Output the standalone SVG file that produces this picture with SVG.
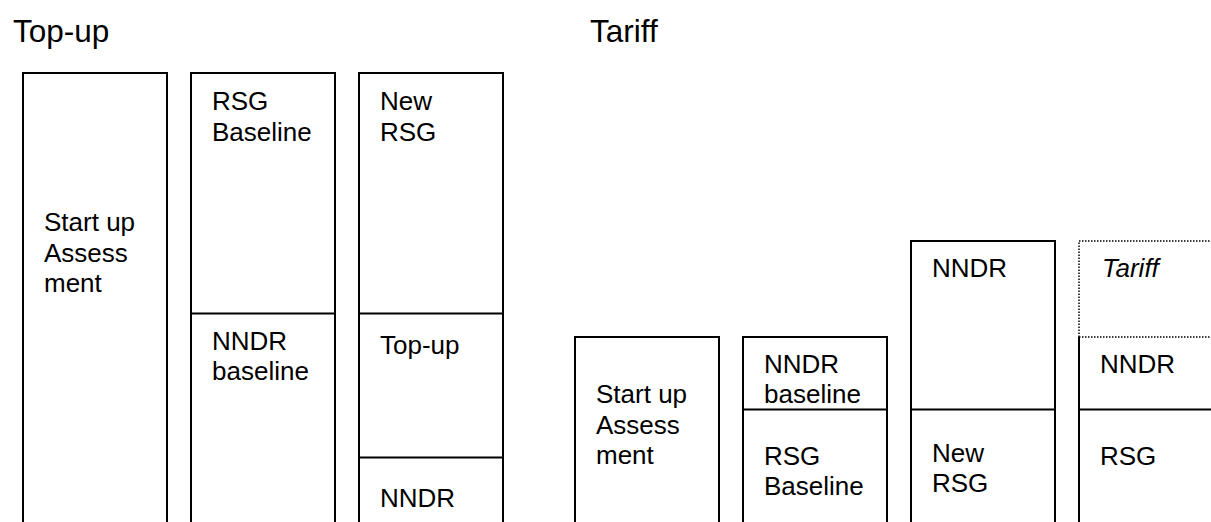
<svg xmlns="http://www.w3.org/2000/svg" width="1211" height="522" viewBox="0 0 1211 522">
<style>
.box{fill:none;stroke:#000;stroke-width:2}
.div{stroke:#000;stroke-width:2}
.dot{fill:none;stroke:#000;stroke-width:1.5;stroke-dasharray:1.5 1.5}
.t{font-family:"Liberation Sans",Arial,sans-serif;font-size:26px;fill:#000}
.h{font-family:"Liberation Sans",Arial,sans-serif;font-size:31.5px;fill:#000}
.i{font-style:italic}
</style>
<rect width="1211" height="522" fill="#fff"/>
<text class="h" x="13" y="42">Top-up</text>
<text class="h" x="590" y="42">Tariff</text>
<g id="topup-startup">
<rect class="box" x="23" y="73" width="144" height="480"/>
<text class="t" x="44" y="231"><tspan x="44">Start up</tspan><tspan x="44" dy="30.5">Assess</tspan><tspan x="44" dy="30.5">ment</tspan></text>
</g>
<g id="topup-baseline">
<rect class="box" x="191" y="73" width="144" height="480"/>
<line class="div" x1="191" y1="313.5" x2="335" y2="313.5"/>
<text class="t" x="212" y="110"><tspan x="212">RSG</tspan><tspan x="212" dy="30.5">Baseline</tspan></text>
<text class="t" x="212" y="350"><tspan x="212">NNDR</tspan><tspan x="212" dy="29.5">baseline</tspan></text>
</g>
<g id="topup-new">
<rect class="box" x="359" y="73" width="144" height="480"/>
<line class="div" x1="359" y1="313.5" x2="503" y2="313.5"/>
<line class="div" x1="359" y1="457.5" x2="503" y2="457.5"/>
<text class="t" x="380" y="110"><tspan x="380">New</tspan><tspan x="380" dy="30.5">RSG</tspan></text>
<text class="t" x="380" y="354">Top-up</text>
<text class="t" x="380" y="507">NNDR</text>
</g>
<g id="tariff-startup">
<rect class="box" x="575" y="337" width="144" height="220"/>
<text class="t" x="596" y="403"><tspan x="596">Start up</tspan><tspan x="596" dy="30.5">Assess</tspan><tspan x="596" dy="30.5">ment</tspan></text>
</g>
<g id="tariff-baseline">
<rect class="box" x="743" y="337" width="144" height="220"/>
<line class="div" x1="743" y1="409.5" x2="887" y2="409.5"/>
<text class="t" x="764" y="373"><tspan x="764">NNDR</tspan><tspan x="764" dy="29.5">baseline</tspan></text>
<text class="t" x="764" y="465"><tspan x="764">RSG</tspan><tspan x="764" dy="30">Baseline</tspan></text>
</g>
<g id="tariff-new">
<rect class="box" x="911" y="241" width="144" height="320"/>
<line class="div" x1="911" y1="409.5" x2="1055" y2="409.5"/>
<text class="t" x="932" y="277">NNDR</text>
<text class="t" x="932" y="462"><tspan x="932">New</tspan><tspan x="932" dy="29.5">RSG</tspan></text>
</g>
<g id="tariff-tariff">
<path class="dot" d="M1079,337 V241 H1225 M1079,337 H1225"/>
<path class="box" d="M1079,337 V560 M1225,337 V560"/>
<line class="div" x1="1079" y1="409.5" x2="1225" y2="409.5"/>
<text class="t i" x="1102" y="277">Tariff</text>
<text class="t" x="1100" y="373">NNDR</text>
<text class="t" x="1100" y="465">RSG</text>
</g>
</svg>
